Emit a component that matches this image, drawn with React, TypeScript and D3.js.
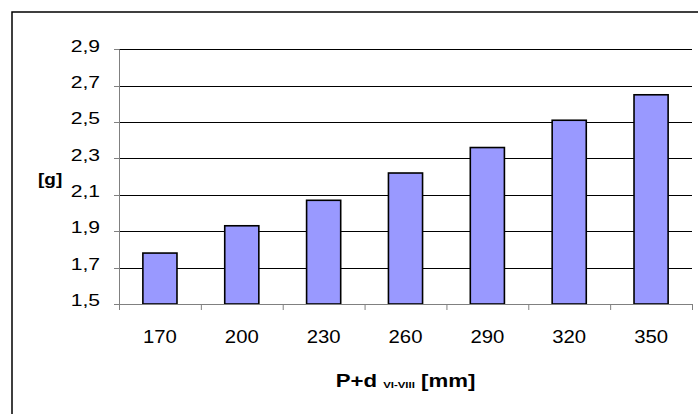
import * as React from "react";
import * as d3 from "d3";

const categories = ["170", "200", "230", "260", "290", "320", "350"];
const weights = [1.78, 1.93, 2.07, 2.22, 2.36, 2.51, 2.65];
const yTicks = [1.5, 1.7, 1.9, 2.1, 2.3, 2.5, 2.7, 2.9];

const WIDTH = 698;
const HEIGHT = 414;
const FONT = "'Liberation Sans', Arial, sans-serif";

export default function App() {
  const plot = { left: 119, right: 692, top: 49.3, bottom: 304 };

  const x = d3.scaleBand<string>().domain(categories).range([plot.left, plot.right]).padding(0);
  const y = d3.scaleLinear().domain([1.5, 2.9]).range([plot.bottom, plot.top]);
  const barW = x.bandwidth() / 2.4; // excel gap width 140%
  const fmt = (v: number) => d3.format(".1f")(v).replace(".", ",");

  // category boundaries for x tick marks
  const xTickPos = categories.map((c) => x(c)!).concat([plot.right]);

  return (
    <svg
      width={WIDTH}
      height={HEIGHT}
      style={{ position: "absolute", left: 0, top: 0, background: "#fff" }}
      fontFamily={FONT}
    >
      {/* chart frame, runs off the right and bottom */}
      <rect x={12} y={12} width={WIDTH} height={HEIGHT} fill="#fff" stroke="#000" strokeWidth={1.5} />

      {/* gridlines */}
      {yTicks.slice(1).map((t) => (
        <line key={t} x1={plot.left} x2={plot.right} y1={Math.round(y(t)) + 0.5} y2={Math.round(y(t)) + 0.5} stroke="#000" strokeWidth={1} />
      ))}

      {/* bars */}
      {categories.map((c, i) => {
        const cx = x(c)! + x.bandwidth() / 2;
        return (
          <rect
            key={c}
            x={cx - barW / 2}
            y={y(weights[i])}
            width={barW}
            height={y(1.5) - y(weights[i])}
            fill="#9999FF"
            stroke="#000"
            strokeWidth={1.6}
          />
        );
      })}

      {/* y axis */}
      <line x1={plot.left + 0.5} x2={plot.left + 0.5} y1={plot.top} y2={plot.bottom} stroke="#808080" strokeWidth={1} />
      {yTicks.map((t) => (
        <g key={t}>
          <line x1={plot.left - 5} x2={plot.left} y1={Math.round(y(t)) + 0.5} y2={Math.round(y(t)) + 0.5} stroke="#808080" />
          <text
            transform={`translate(${plot.left - 19},${y(t) + 2.2}) scale(1.28,1)`}
            textAnchor="end"
            fontSize={16.5}
            fill="#000"
          >
            {fmt(t)}
          </text>
        </g>
      ))}

      {/* x axis */}
      <line x1={plot.left} x2={plot.right} y1={Math.round(plot.bottom) + 0.5} y2={Math.round(plot.bottom) + 0.5} stroke="#808080" strokeWidth={1} />
      {xTickPos.map((p, i) => (
        <line key={i} x1={p + 0.5} x2={p + 0.5} y1={plot.bottom} y2={plot.bottom + 6} stroke="#808080" />
      ))}
      {categories.map((c) => (
        <text
          key={c}
          transform={`translate(${x(c)! + x.bandwidth() / 2},343.3) scale(1.07,1)`}
          textAnchor="middle"
          fontSize={19}
          fill="#000"
        >
          {c}
        </text>
      ))}

      {/* axis titles */}
      <text transform="translate(38,185) scale(1.12,1)" fontSize={17} fontWeight="bold" fill="#000">
        [g]
      </text>
      <text
        transform={`translate(${(plot.left + plot.right) / 2},386.7) scale(1.2,1)`}
        textAnchor="middle"
        fontWeight="bold"
        fontSize={18.5}
        fill="#000"
      >
        P+d{" "}
        <tspan fontSize={9.5} dy={1}>VI-VIII</tspan>
        <tspan dy={-1}>{" "}[mm]</tspan>
      </text>
    </svg>
  );
}
